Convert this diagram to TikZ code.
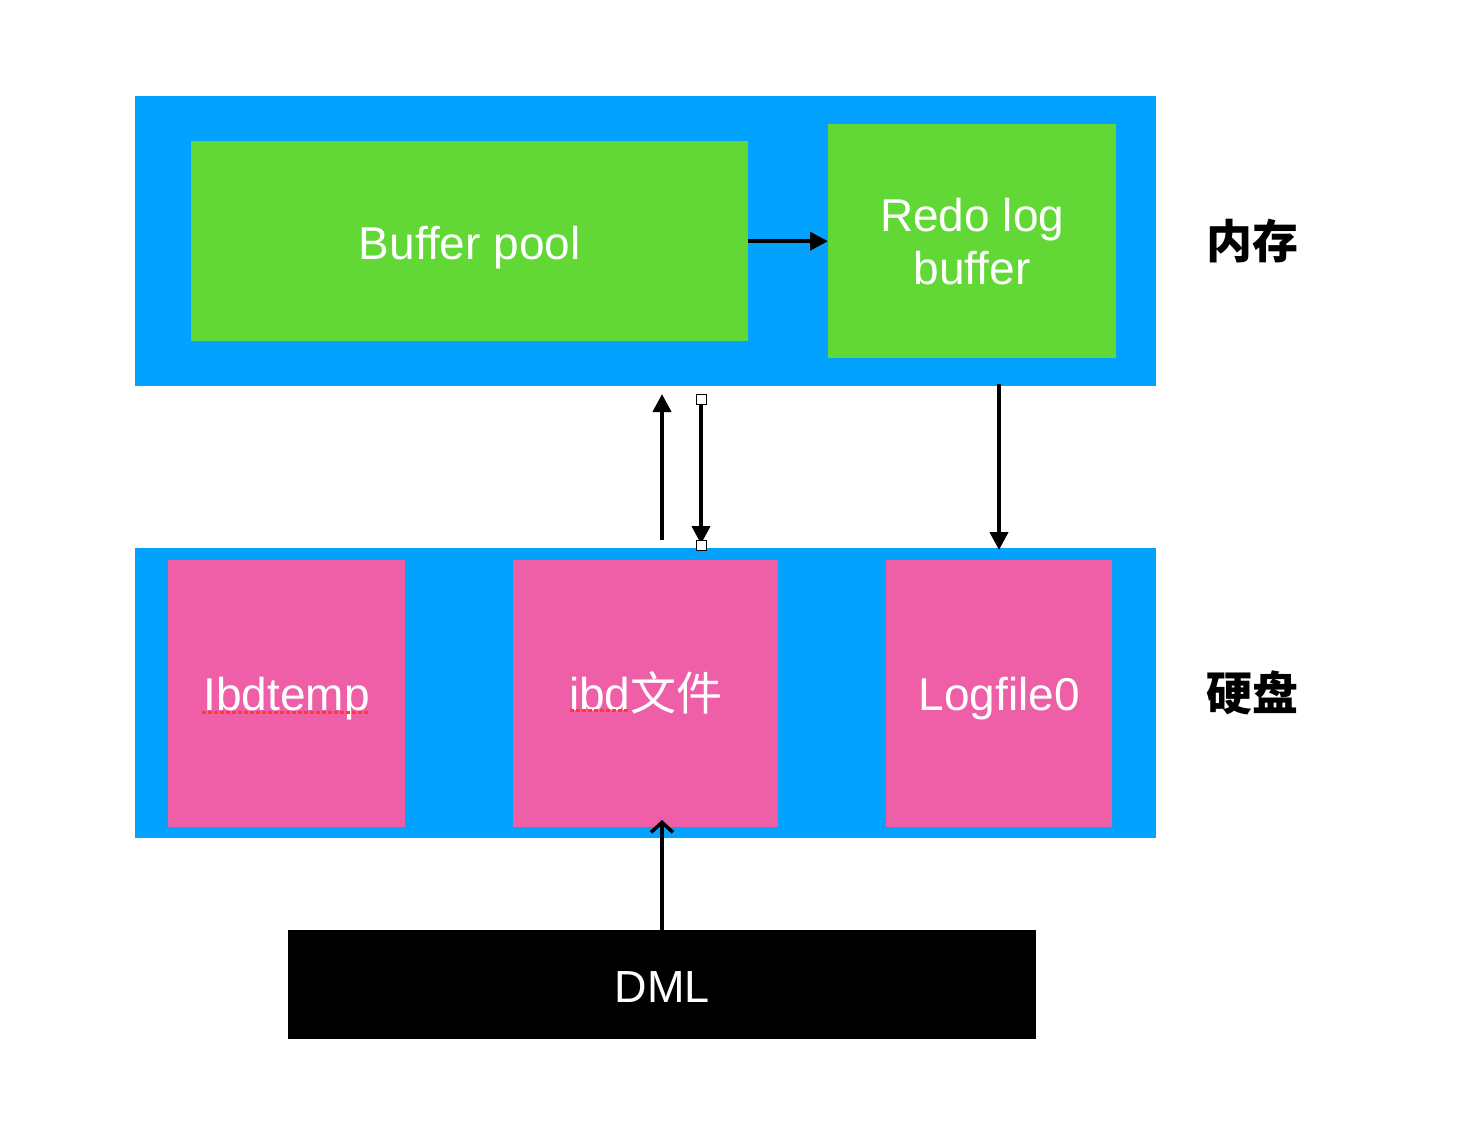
\documentclass[tikz,border=0pt]{standalone}
\usepackage{fontspec}
\setmainfont{Liberation Sans}
\newfontfamily\cjk{Noto Sans CJK SC}
\usetikzlibrary{arrows.meta}
\definecolor{memblue}{HTML}{03A2FF}
\definecolor{boxgreen}{HTML}{61D836}
\definecolor{boxpink}{HTML}{EF5FA7}
\definecolor{squig}{HTML}{FF3B30}
\tikzset{
  panel/.style={fill=memblue, draw=none, anchor=north west, inner sep=0pt},
  gbox/.style={fill=boxgreen, draw=none, anchor=north west, inner sep=0pt, text=white, align=center, font=\fontsize{46}{53}\selectfont},
  pbox/.style={fill=boxpink, draw=none, anchor=north west, inner sep=0pt, text=white, align=center, font=\fontsize{46}{53}\selectfont},
  low/.style={text height=#1, text depth=0pt},
  side/.style={font=\cjk\bfseries\fontsize{46}{53}\selectfont, text=black},
  conn/.style={line width=4pt, draw=black, -{Triangle[length=18pt,width=18pt]}},
  openconn/.style={line width=4pt, draw=black, -{Straight Barb[length=10pt,width=22pt,line width=3.5pt]}},
  handle/.style={draw=black, fill=white, line width=1pt, minimum size=10pt, inner sep=0pt},
  spell/.style={draw=squig, line width=3pt, dash pattern=on 4pt off 2pt}
}
\begin{document}
\begin{tikzpicture}[x=1pt,y=-1pt]
\useasboundingbox[fill=white] (0,0) rectangle (1476,1144);
% panels
\node[panel, minimum width=1021pt, minimum height=290pt] (mem) at (135,96) {};
\node[panel, minimum width=1021pt, minimum height=290pt] (disk) at (135,548) {};
% memory boxes
\node[gbox, low=36pt, minimum width=557pt, minimum height=200pt] (bp) at (191,141) {Buffer pool};
\node[gbox, minimum width=288pt, minimum height=234pt] (redo) at (828,124) {Redo log\\buffer};
% disk boxes
\node[pbox, low=33pt, minimum width=237pt, minimum height=267pt] (tmp) at (168,560) {Ibdtemp};
\node[pbox, low=33pt, minimum width=265pt, minimum height=267pt] (ibd) at (513,560) {ibd{\cjk 文件}};
\node[pbox, low=33pt, minimum width=226pt, minimum height=267pt] (log) at (886,560) {Logfile0};
% DML
\node[fill=black, anchor=north west, inner sep=0pt, low=36pt, minimum width=748pt, minimum height=109pt, text=white, font=\fontsize{45}{50}\selectfont] (dml) at (288,930) {DML};
% side labels
\node[side] (lmem) at (1252,241) {内存};
\node[side] (ldisk) at (1252,693) {硬盘};
% spell-check underlines
\draw[spell] (202,712) -- (368,712);
\draw[spell] (570,710) -- (630,710);
% coordinates for connector ends
\coordinate (upS) at (662,540);
\coordinate (upE) at (662,394);
\coordinate (dnS) at (701,399);
\coordinate (dnE) at (701,544);
\coordinate (rdS) at (999,384);
\coordinate (rdE) at (999,550);
\coordinate (dmlE) at (662,820);
% connectors
\draw[conn] (bp.east) -- (redo.west |- bp.east);
\draw[conn] (upS) -- (upE);
\draw[conn] (dnS) -- (dnE);
\draw[conn] (rdS) -- (rdE);
\draw[openconn] (dml.north -| dmlE) -- (dmlE);
% selection handles
\node[handle] (h1) at (dnS) {};
\node[handle] (h2) at (701,545) {};
\end{tikzpicture}
\end{document}
